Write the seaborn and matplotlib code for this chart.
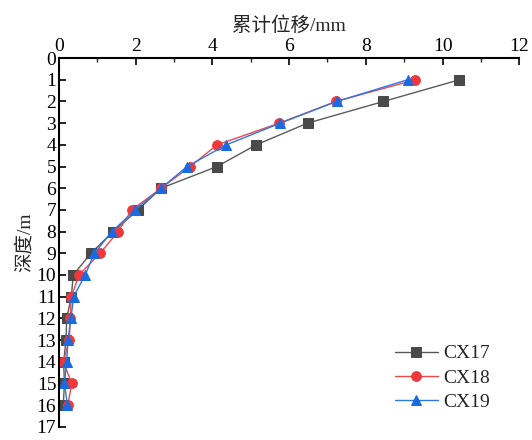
import numpy as np
import pandas as pd
import matplotlib
matplotlib.use("Agg")
import matplotlib.pyplot as plt
from matplotlib.ticker import MultipleLocator
import seaborn as sns

# === data ===
depth = [1, 2, 3, 4, 5, 6, 7, 8, 9, 10, 11, 12, 13, 14, 15, 16]
cx17 = [10.44, 8.46, 6.48, 5.14, 4.12, 2.66, 2.06, 1.41, 0.83, 0.37, 0.32, 0.20, 0.18, 0.12, 0.14, 0.11]
cx18 = [9.29, 7.22, 5.74, 4.12, 3.42, 2.66, 1.90, 1.54, 1.07, 0.52, 0.32, 0.29, 0.27, 0.11, 0.33, 0.23]
cx19 = [9.09, 7.24, 5.77, 4.36, 3.34, 2.66, 1.98, 1.38, 0.92, 0.68, 0.38, 0.31, 0.23, 0.20, 0.14, 0.22]
series_names = ["CX17", "CX18", "CX19"]

colors = {"CX17": "#4a4a4a", "CX18": "#f0383c", "CX19": "#1a6be0"}
line_colors = {"CX17": "#5a5a5a", "CX18": "#f04848", "CX19": "#2a78e8"}
markers = {"CX17": "s", "CX18": "o", "CX19": "^"}

df = pd.concat([
    pd.DataFrame({"depth": depth, "disp": vals, "series": name})
    for name, vals in zip(series_names, [cx17, cx18, cx19])
])

sns.set_theme(style="white")
plt.rcParams["font.family"] = ["Liberation Serif", "Noto Sans CJK SC"]
plt.rcParams["axes.unicode_minus"] = False

fig = plt.figure(figsize=(5.32, 4.40), dpi=100)
ax = fig.add_axes([0.111, 0.030, 0.865, 0.838])

for name in series_names:
    sub = df[df["series"] == name]
    sns.lineplot(data=sub, x="disp", y="depth", sort=False, ax=ax,
                 color=line_colors[name], linewidth=1.0,
                 marker=markers[name], markersize=7,
                 markerfacecolor=colors[name], markeredgecolor=colors[name],
                 label=name)

ax.set_xlim(0, 12)
ax.set_ylim(17, 0)
ax.xaxis.set_major_locator(MultipleLocator(2))
ax.xaxis.set_minor_locator(MultipleLocator(1))
ax.yaxis.set_major_locator(MultipleLocator(1))
ax.xaxis.tick_top()
ax.xaxis.set_label_position("top")

for s in ["right", "bottom"]:
    ax.spines[s].set_visible(False)
for s in ["left", "top"]:
    ax.spines[s].set_color("black")
    ax.spines[s].set_linewidth(1.5)

ax.tick_params(axis="both", which="major", direction="in", length=5, width=1.2,
               labelsize=14, colors="black", top=True, left=True, bottom=False, right=False)
ax.tick_params(axis="x", which="minor", direction="in", length=3, width=1.0, top=True, bottom=False)
ax.tick_params(axis="x", pad=2)
ax.tick_params(axis="y", pad=2)

ax.set_xlabel("累计位移/mm", fontsize=14, labelpad=5)
ax.set_ylabel("深度/m", fontsize=14, labelpad=2)

leg = ax.legend(loc="lower right", bbox_to_anchor=(0.975, -0.005), frameon=False,
                fontsize=14, handlelength=2.2, labelspacing=0.35, handletextpad=0.3)

fig.savefig("out.png", dpi=100)
